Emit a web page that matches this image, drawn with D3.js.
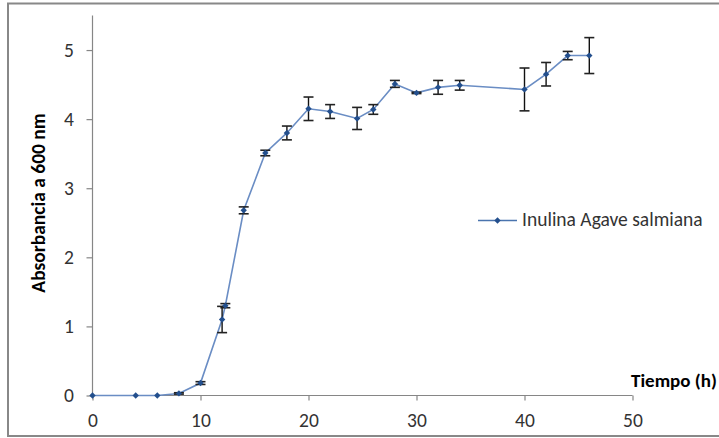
<!DOCTYPE html>
<html>
<head>
<meta charset="utf-8">
<script src="https://cdn.jsdelivr.net/npm/d3@7"></script>
<style>
  html, body { margin: 0; padding: 0; background: #fff; }
  svg { display: block; }
  text { font-family: Carlito, "Open Sans", "Liberation Sans", sans-serif; }
</style>
</head>
<body>
<svg id="chart" width="719" height="438"></svg>
<script>
// Growth curve: time (h) vs absorbance at 600 nm, with standard deviation
const tiempo = [0, 4, 6, 8, 10, 12, 12.3, 14, 16, 18, 20, 22, 24.5, 26, 28, 30, 32, 34, 40, 42, 44, 46];
const absorbancia = [0, 0, 0, 0.03, 0.18, 1.10, 1.30, 2.68, 3.51, 3.80, 4.15, 4.11, 4.01, 4.14, 4.51, 4.38, 4.46, 4.49, 4.43, 4.65, 4.92, 4.92];
const desviacion = [0, 0, 0, 0.01, 0.02, 0.19, 0.03, 0.05, 0.04, 0.10, 0.17, 0.10, 0.16, 0.07, 0.05, 0.01, 0.10, 0.07, 0.31, 0.17, 0.06, 0.26];
const xTicks = [0, 10, 20, 30, 40, 50];
const yTicks = [0, 1, 2, 3, 4, 5];
const serieNombre = "Inulina Agave salmiana";

const data = tiempo.map((t, i) => ({ t, a: absorbancia[i], e: desviacion[i] }));

const svg = d3.select("#chart");
const axisColor = "#868686";
const textColor = "#333";
const fontSize = 19.5;

// outer frame
svg.append("rect")
  .attr("x", 8).attr("y", 3.5)
  .attr("width", 730).attr("height", 432.5)
  .attr("fill", "none").attr("stroke", "#888").attr("stroke-width", 2);

const x = d3.scaleLinear().domain([0, 50]).range([92.5, 632.5]);
const y = d3.scaleLinear().domain([0, 5.5]).range([395.5, 15.5]);

// y axis
const gy = svg.append("g").attr("transform", `translate(${x(0)},0)`)
  .call(d3.axisLeft(y).tickValues(yTicks).tickSize(6).tickPadding(12.5).tickFormat(d3.format("d")));
// x axis
const gx = svg.append("g").attr("transform", `translate(0,${y(0)})`)
  .call(d3.axisBottom(x).tickValues(xTicks).tickSize(5).tickPadding(13).tickFormat(d3.format("d")));

[gx, gy].forEach(g => {
  g.select(".domain").attr("stroke", axisColor).attr("stroke-width", 1.2);
  g.selectAll(".tick line").attr("stroke", axisColor).attr("stroke-width", 1.2);
  g.selectAll(".tick text").attr("fill", textColor).attr("font-size", fontSize)
    .style("font-family", 'Carlito, "Open Sans", "Liberation Sans", sans-serif');
});
gy.select(".domain").attr("d", `M0,${y(5.5)}V${y(0)}`);
gx.select(".domain").attr("d", `M${x(0)},0H${x(50)}`);

// axis titles
svg.append("text")
  .attr("x", 631).attr("y", 387)
  .attr("font-size", 19).attr("font-weight", "bold").attr("fill", "#000")
  .text("Tiempo (h)");

svg.append("text")
  .attr("transform", `translate(45,203) rotate(-90)`)
  .attr("text-anchor", "middle")
  .attr("font-size", fontSize).attr("font-weight", "bold").attr("fill", "#000")
  .text("Absorbancia a 600 nm");

// series line
const line = d3.line().x(d => x(d.t)).y(d => y(d.a));
svg.append("path").datum(data)
  .attr("d", line)
  .attr("fill", "none")
  .attr("stroke", "#6A8DC4")
  .attr("stroke-width", 1.6);

// error bars
const eb = svg.append("g");
const conError = data.filter(d => d.e > 0);
eb.selectAll("line.v").data(conError).join("line")
  .attr("x1", d => x(d.t)).attr("x2", d => x(d.t))
  .attr("y1", d => y(d.a + d.e)).attr("y2", d => y(d.a - d.e))
  .attr("stroke", "#111").attr("stroke-width", 1.4);
eb.selectAll("line.top").data(conError).join("line")
  .attr("x1", d => x(d.t) - 5).attr("x2", d => x(d.t) + 5)
  .attr("y1", d => y(d.a + d.e)).attr("y2", d => y(d.a + d.e))
  .attr("stroke", "#222").attr("stroke-width", 1.6);
eb.selectAll("line.bot").data(conError).join("line")
  .attr("x1", d => x(d.t) - 5).attr("x2", d => x(d.t) + 5)
  .attr("y1", d => y(d.a - d.e)).attr("y2", d => y(d.a - d.e))
  .attr("stroke", "#222").attr("stroke-width", 1.6);

// diamond markers
const diamond = d3.symbol().type(d3.symbolDiamond2).size(26);
svg.append("g").selectAll("path").data(data).join("path")
  .attr("transform", d => `translate(${x(d.t)},${y(d.a)})`)
  .attr("d", diamond)
  .attr("fill", "#234F8D");

// legend
const lg = svg.append("g").attr("transform", "translate(478,220.5)");
lg.append("line").attr("x1", 0).attr("x2", 39).attr("y1", 0).attr("y2", 0)
  .attr("stroke", "#4A74AE").attr("stroke-width", 1.6);
lg.append("path").attr("transform", "translate(19.5,0)").attr("d", diamond).attr("fill", "#234F8D");
lg.append("text").attr("x", 44).attr("y", 5.5)
  .attr("font-size", fontSize).attr("fill", textColor)
  .text(serieNombre);
</script>
</body>
</html>
